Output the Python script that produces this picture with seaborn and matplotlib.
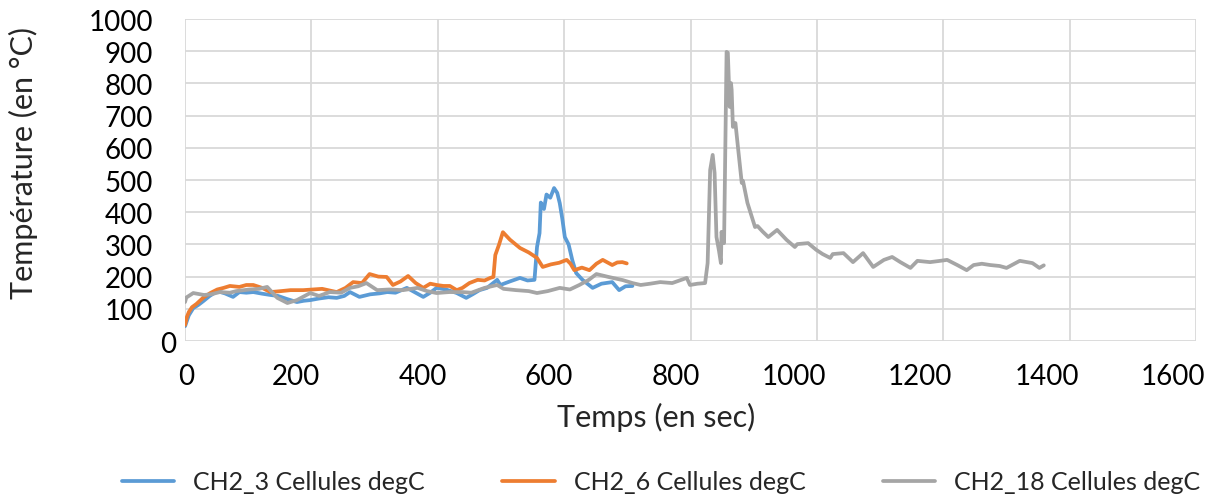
import numpy as np
import pandas as pd
import matplotlib
matplotlib.use("Agg")
import matplotlib.pyplot as plt
import matplotlib.transforms as mtransforms
import seaborn as sns

# ---------------------------------------------------------------------------
# Data
# ---------------------------------------------------------------------------
ch3_t = [0, 6, 13, 21, 29, 39, 51, 63, 76, 86, 97, 108, 122, 135, 147, 162,
         177, 188, 198, 212, 227, 240, 252, 261, 276, 293, 308, 320, 333, 351,
         365, 377, 388, 398, 413, 430, 445, 455, 466, 478, 494, 499, 514, 530,
         542, 553, 557, 561, 563, 568, 572, 578, 584, 589, 593, 597, 601, 607,
         613, 619, 629, 645, 659, 676, 687, 697, 708]
ch3_v = [46, 80, 102, 112, 124, 140, 155, 148, 137, 152, 150, 152, 147, 143,
         140, 130, 121, 125, 127, 132, 136, 134, 140, 152, 137, 145, 148, 152,
         150, 165, 150, 137, 150, 165, 160, 149, 134, 145, 158, 165, 190, 174,
         185, 196, 188, 190, 292, 335, 430, 410, 455, 445, 475, 460, 428, 380,
         323, 300, 250, 211, 190, 165, 178, 183, 158, 170, 171]

ch6_t = [0, 3, 6, 11, 18, 29, 40, 51, 61, 71, 86, 97, 108, 122, 135, 152, 167,
         187, 202, 217, 240, 254, 266, 280, 292, 306, 319, 329, 341, 353, 365,
         377, 388, 398, 409, 419, 430, 439, 450, 463, 474, 483, 488, 491, 497,
         503, 514, 530, 544, 557, 566, 579, 592, 604, 610, 616, 628, 640, 651,
         661, 676, 684, 692, 699]
ch6_v = [50, 75, 90, 105, 115, 135, 149, 160, 165, 171, 168, 174, 174, 165,
         152, 155, 158, 158, 160, 162, 152, 165, 183, 180, 208, 200, 199, 174,
         185, 202, 180, 165, 178, 174, 171, 171, 158, 165, 180, 190, 188, 196,
         199, 267, 300, 338, 315, 289, 275, 258, 230, 238, 243, 252, 240, 220,
         228, 220, 240, 252, 236, 244, 245, 241]

ch18_t = [0, 2, 13, 30, 41, 55, 71, 81, 102, 117, 130, 146, 162, 177, 198, 212,
          229, 247, 261, 274, 287, 304, 323, 345, 368, 383, 398, 418, 439, 453,
          474, 494, 504, 524, 544, 557, 574, 593, 609, 624, 639, 651, 670, 693,
          708, 721, 736, 752, 771, 794, 799, 811, 823, 827, 831, 835, 838, 841,
          845, 848, 849, 853, 857, 859, 862, 864, 865, 867, 871, 875, 881, 883,
          890, 902, 906, 914, 923, 937, 952, 965, 969, 986, 999, 1009, 1021,
          1025, 1042, 1057, 1073, 1089, 1106, 1119, 1132, 1148, 1159, 1179,
          1195, 1206, 1222, 1237, 1248, 1261, 1274, 1289, 1300, 1321, 1341,
          1352, 1359]
ch18_v = [121, 135, 149, 143, 145, 152, 150, 155, 160, 162, 168, 134, 118, 127,
          149, 140, 152, 150, 165, 170, 180, 158, 160, 158, 165, 155, 149, 152,
          152, 150, 165, 174, 162, 158, 155, 149, 155, 165, 160, 174, 190, 208,
          199, 189, 180, 174, 178, 183, 180, 196, 174, 178, 180, 242, 531, 578,
          522, 323, 280, 242, 339, 304, 898, 895, 727, 801, 780, 665, 677, 602,
          491, 497, 429, 354, 357, 340, 323, 345, 314, 292, 301, 304, 283, 270,
          258, 270, 273, 245, 273, 230, 252, 261, 245, 227, 249, 245, 249, 252,
          236, 220, 236, 240, 236, 233, 227, 249, 242, 227, 235]

series_names = ["CH2_3 Cellules degC", "CH2_6 Cellules degC", "CH2_18 Cellules degC"]
colors = ["#5B9BD5", "#ED7D31", "#A5A5A5"]

x_ticks = [0, 200, 400, 600, 800, 1000, 1200, 1400, 1600]
y_ticks = [0, 100, 200, 300, 400, 500, 600, 700, 800, 900, 1000]

# ---------------------------------------------------------------------------
# Build long-form table
# ---------------------------------------------------------------------------
frames = []
for name, t, v in zip(series_names, [ch3_t, ch6_t, ch18_t], [ch3_v, ch6_v, ch18_v]):
    frames.append(pd.DataFrame({"Temps": t, "Temp": v, "Serie": name}))
df = pd.concat(frames, ignore_index=True)

# ---------------------------------------------------------------------------
# Plot
# ---------------------------------------------------------------------------
sns.set_style("white")
plt.rcParams["font.family"] = ["Lato", "DejaVu Sans"]

fig = plt.figure(figsize=(12.23, 5.02), dpi=100)
ax = fig.add_axes([0.1513, 0.3187, 0.8267, 0.6414])

sns.lineplot(
    data=df, x="Temps", y="Temp", hue="Serie", hue_order=series_names,
    palette=colors, estimator=None, sort=False, linewidth=2.7, ax=ax,
)

ax.set_xlim(0, 1600)
ax.set_ylim(0, 1000)
ax.set_xticks(x_ticks)
ax.set_yticks(y_ticks)
ax.tick_params(axis="both", length=0, labelsize=20, colors="black")
ax.tick_params(axis="x", pad=16)
ax.tick_params(axis="y", pad=23)
ax.grid(True, color="#d9d9d9", linewidth=1.3)
ax.set_axisbelow(True)
for spine in ax.spines.values():
    spine.set_visible(False)

ax.set_xlabel("Temps (en sec)", fontsize=22)
ax.set_ylabel("Température (en °C)", fontsize=22)
ax.xaxis.set_label_coords(0.466, -0.19)
ax.yaxis.set_label_coords(-0.145, 0.556)

ax.get_legend().remove()
handles, labels = ax.get_legend_handles_labels()
fig.legend(
    handles, labels, loc="center", bbox_to_anchor=(0.5405, 0.038), ncol=3,
    frameon=False, fontsize=18, handlelength=2.1, handletextpad=0.75,
    columnspacing=3.1,
)

# Excel-like label placement: x labels sit right-aligned next to gridlines,
# and the y "0" label is pushed toward the axis
fig.canvas.draw()
x_shift = mtransforms.ScaledTranslation(0.09, 0, fig.dpi_scale_trans)
for lab in ax.get_xticklabels():
    lab.set_horizontalalignment("right")
    lab.set_transform(lab.get_transform() + x_shift)
y_shift = mtransforms.ScaledTranslation(0.23, 0, fig.dpi_scale_trans)
zero_lab = ax.get_yticklabels()[0]
zero_lab.set_transform(zero_lab.get_transform() + y_shift)

fig.savefig("out.png", dpi=100)
